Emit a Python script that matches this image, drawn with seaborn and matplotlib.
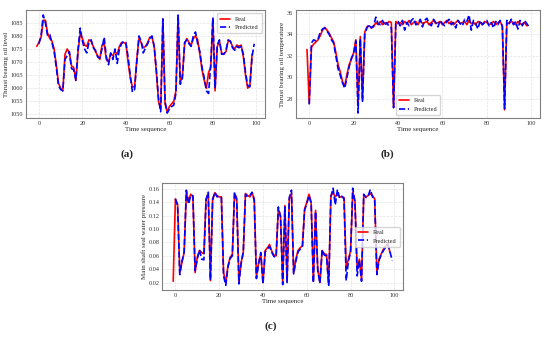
import numpy as np
import pandas as pd
import matplotlib
matplotlib.use("Agg")
import matplotlib.pyplot as plt
import seaborn as sns

# Thrust bearing oil level (real starts at t=-1, prediction at t=0)
oil_level_real = [
    1076, 1077.5, 1079.5, 1086, 1086, 1081, 1079, 1078, 1075, 1069,
    1062, 1060, 1059, 1073, 1075, 1073.5, 1068.5, 1068, 1063, 1074,
    1081, 1079, 1076.5, 1076, 1078.5, 1078, 1076, 1074, 1072.5, 1071,
    1076.5, 1077, 1071, 1070, 1073, 1072.5, 1074, 1073, 1076, 1077.5,
    1077.5, 1077, 1070, 1064, 1060.5, 1060.5, 1071, 1079, 1077.5, 1075.5,
    1076, 1077.5, 1079.5, 1079.5, 1076, 1066, 1055, 1052, 1086.5, 1054,
    1051, 1053, 1054, 1055, 1059, 1087.5, 1062, 1065, 1077, 1079,
    1077.5, 1076.5, 1079, 1080, 1078.5, 1073, 1067, 1063, 1060, 1066,
    1068, 1086.5, 1059, 1076, 1078, 1073.5, 1073, 1074, 1078, 1078,
    1076, 1075, 1076.5, 1076, 1076.5, 1072, 1065, 1060, 1061, 1073,
]
oil_level_pred = [
    1077, 1080, 1088, 1085, 1080, 1080.5, 1077.5, 1074, 1068, 1061,
    1059.5, 1059, 1071, 1072.5, 1074, 1067.5, 1067, 1063, 1075, 1083,
    1078, 1075, 1073.5, 1077.5, 1078.5, 1075.5, 1074.5, 1072, 1071.5, 1075,
    1079.5, 1072, 1069, 1073.5, 1071, 1075, 1069.5, 1075, 1077, 1078,
    1077.5, 1072, 1065, 1058.5, 1059.5, 1070, 1080, 1078, 1073.5, 1075.5,
    1077, 1079, 1080, 1076, 1067, 1056, 1051, 1086.5, 1055, 1050.5,
    1052, 1053, 1053.5, 1058, 1088, 1061.5, 1064, 1077.5, 1078.5, 1077,
    1076, 1080, 1081.5, 1077, 1074, 1068, 1064, 1059, 1058, 1069,
    1087, 1060, 1076.5, 1078.5, 1073, 1073, 1074.5, 1078.5, 1078, 1075.5,
    1074.5, 1076, 1075.5, 1076, 1073, 1066, 1061, 1060.5, 1072, 1077,
]

# Thrust bearing oil temperature
oil_temp_real = [
    32.6, 27.6, 32.8, 33.1, 33.3, 33.5, 33.9, 34.4, 34.65, 34.4,
    34.1, 33.7, 33.3, 32.3, 31.2, 30.5, 29.6, 29.2, 30.3, 31.2,
    31.7, 32.3, 33.5, 27.5, 33.8, 27.9, 34.2, 34.7, 34.8, 34.6,
    34.7, 35.1, 34.9, 35.2, 34.9, 35.1, 35.0, 35.2, 35.1, 27.2,
    35.2, 35.0, 35.1, 34.9, 35.2, 35.0, 35.3, 34.9, 35.1, 35.2,
    34.9, 35.3, 35.0, 35.1, 35.2, 34.9, 35.1, 35.3, 35.0, 35.1,
    35.2, 34.9, 35.1, 35.3, 35.0, 35.2, 34.9, 35.1, 35.3, 35.0,
    35.1, 35.2, 34.9, 35.3, 35.0, 35.1, 34.9, 35.2, 35.1, 34.9,
    35.2, 35.1, 34.9, 35.0, 35.2, 34.9, 35.1, 35.2, 34.8, 27.0,
    35.1, 35.0, 35.2, 35.1, 34.9, 35.2, 35.0, 34.9, 35.1, 34.8,
]
oil_temp_pred = [
    27.5, 33.2, 33.5, 33.4, 33.6, 34.2, 34.5, 34.6, 34.3, 34.0,
    33.5, 33.2, 32.0, 30.8, 30.2, 29.5, 29.0, 30.0, 31.0, 31.8,
    32.2, 33.4, 26.7, 33.6, 27.8, 34.0, 34.6, 34.9, 34.6, 34.8,
    35.6, 35.0, 34.9, 35.3, 34.8, 35.1, 34.7, 34.6, 27.2, 35.0,
    35.2, 34.8, 35.3, 34.4, 35.1, 34.8, 35.3, 35.5, 34.9, 35.0,
    35.4, 34.7, 35.3, 35.5, 35.0, 34.8, 35.4, 35.1, 34.7, 35.3,
    35.0, 34.8, 35.2, 35.4, 34.9, 35.1, 34.6, 35.3, 35.0, 34.8,
    35.4, 35.2, 35.8, 34.4, 35.3, 35.0, 34.5, 35.3, 34.9, 35.1,
    35.3, 34.8, 35.1, 34.6, 35.2, 34.9, 35.3, 34.7, 27.1, 35.3,
    35.0, 35.4, 34.9, 35.2, 34.5, 35.3, 34.8, 35.3, 35.0, 34.7,
]

# Main shaft seal water pressure
pressure_real = [
    0.022, 0.145, 0.137, 0.035, 0.050, 0.065, 0.155, 0.142, 0.152, 0.148,
    0.035, 0.058, 0.068, 0.065, 0.063, 0.145, 0.153, 0.023, 0.145, 0.154,
    0.150, 0.148, 0.148, 0.035, 0.020, 0.045, 0.058, 0.062, 0.153, 0.146,
    0.022, 0.050, 0.065, 0.153, 0.150, 0.148, 0.154, 0.145, 0.028, 0.050,
    0.063, 0.020, 0.068, 0.072, 0.077, 0.067, 0.061, 0.060, 0.130, 0.120,
    0.020, 0.135, 0.022, 0.145, 0.153, 0.035, 0.055, 0.068, 0.072, 0.075,
    0.130, 0.140, 0.152, 0.140, 0.022, 0.128, 0.040, 0.020, 0.068, 0.063,
    0.062, 0.017, 0.150, 0.154, 0.148, 0.152, 0.148, 0.148, 0.147, 0.042,
    0.055, 0.068, 0.155, 0.142, 0.040, 0.055, 0.025, 0.150, 0.148, 0.150,
    0.153, 0.150, 0.145, 0.035, 0.055, 0.063, 0.070, 0.075, 0.078, 0.065,
]
pressure_pred = [
    0.145, 0.135, 0.032, 0.052, 0.066, 0.158, 0.137, 0.150, 0.150, 0.038,
    0.055, 0.069, 0.055, 0.054, 0.143, 0.155, 0.024, 0.143, 0.155, 0.148,
    0.149, 0.147, 0.030, 0.016, 0.043, 0.056, 0.060, 0.155, 0.143, 0.018,
    0.048, 0.066, 0.152, 0.148, 0.150, 0.155, 0.143, 0.026, 0.048, 0.065,
    0.018, 0.066, 0.070, 0.074, 0.065, 0.059, 0.058, 0.133, 0.118, 0.017,
    0.133, 0.020, 0.147, 0.158, 0.033, 0.052, 0.066, 0.070, 0.073, 0.128,
    0.138, 0.150, 0.138, 0.020, 0.126, 0.038, 0.019, 0.069, 0.061, 0.060,
    0.016, 0.148, 0.161, 0.136, 0.159, 0.146, 0.149, 0.145, 0.023, 0.052,
    0.066, 0.161, 0.140, 0.030, 0.053, 0.022, 0.152, 0.147, 0.149, 0.159,
    0.148, 0.143, 0.032, 0.053, 0.062, 0.068, 0.073, 0.077, 0.066, 0.053,
]

t_real = np.arange(-1, 99)
t_pred = np.arange(0, 100)

sns.set_style("whitegrid", {"grid.color": "#e3e3e3", "grid.linestyle": "--",
                            "axes.edgecolor": "#808080"})
plt.rcParams["font.family"] = ["Liberation Serif", "DejaVu Serif"]

fig = plt.figure(figsize=(5.5, 3.37), dpi=100)
ax_a = fig.add_axes([0.047, 0.650, 0.435, 0.320])
ax_b = fig.add_axes([0.538, 0.650, 0.444, 0.320])
ax_c = fig.add_axes([0.295, 0.139, 0.438, 0.317])

panels = [
    (ax_a, oil_level_real, oil_level_pred, "Thrust bearing oil level", "upper right", [1050, 1055, 1060, 1065, 1070, 1075, 1080, 1085]),
    (ax_b, oil_temp_real, oil_temp_pred, "Thrust bearing oil temperature", "lower center", [28, 30, 32, 34, 36]),
    (ax_c, pressure_real, pressure_pred, "Main shaft seal water pressure", "center right", [0.02, 0.04, 0.06, 0.08, 0.10, 0.12, 0.14, 0.16]),
]

for ax, real, pred, ylab, loc, yt in panels:
    sns.lineplot(x=t_real, y=real, ax=ax, color="#ff0000", linewidth=1.2, label="Real")
    sns.lineplot(x=t_pred, y=pred, ax=ax, color="#0000ff", linewidth=1.2,
                 linestyle="--", label="Predicted")
    ax.set_xlabel("Time sequence", fontsize=5, labelpad=1)
    ax.set_ylabel(ylab, fontsize=5, labelpad=1)
    ax.set_xticks([0, 20, 40, 60, 80, 100])
    ax.set_yticks(yt)
    ax.tick_params(labelsize=4.5, pad=1, length=1, width=0.5, colors="#333333")
    for s in ax.spines.values():
        s.set_linewidth(0.8)
    ax.grid(True, linewidth=0.5)
    ax.legend(loc=loc, fontsize=4.5, frameon=True, handlelength=1.6,
              borderpad=0.5, edgecolor="#cccccc", fancybox=True)

ax_c.set_yticklabels(["0.02", "0.04", "0.06", "0.08", "0.10", "0.12", "0.14", "0.16"])

fig.text(0.231, 1 - 154 / 337, "(a)", fontsize=8, fontweight="bold", ha="center", va="center")
fig.text(0.704, 1 - 154 / 337, "(b)", fontsize=8, fontweight="bold", ha="center", va="center")
fig.text(0.493, 1 - 326 / 337, "(c)", fontsize=8, fontweight="bold", ha="center", va="center")

fig.savefig("out.png", dpi=100, facecolor="white")
